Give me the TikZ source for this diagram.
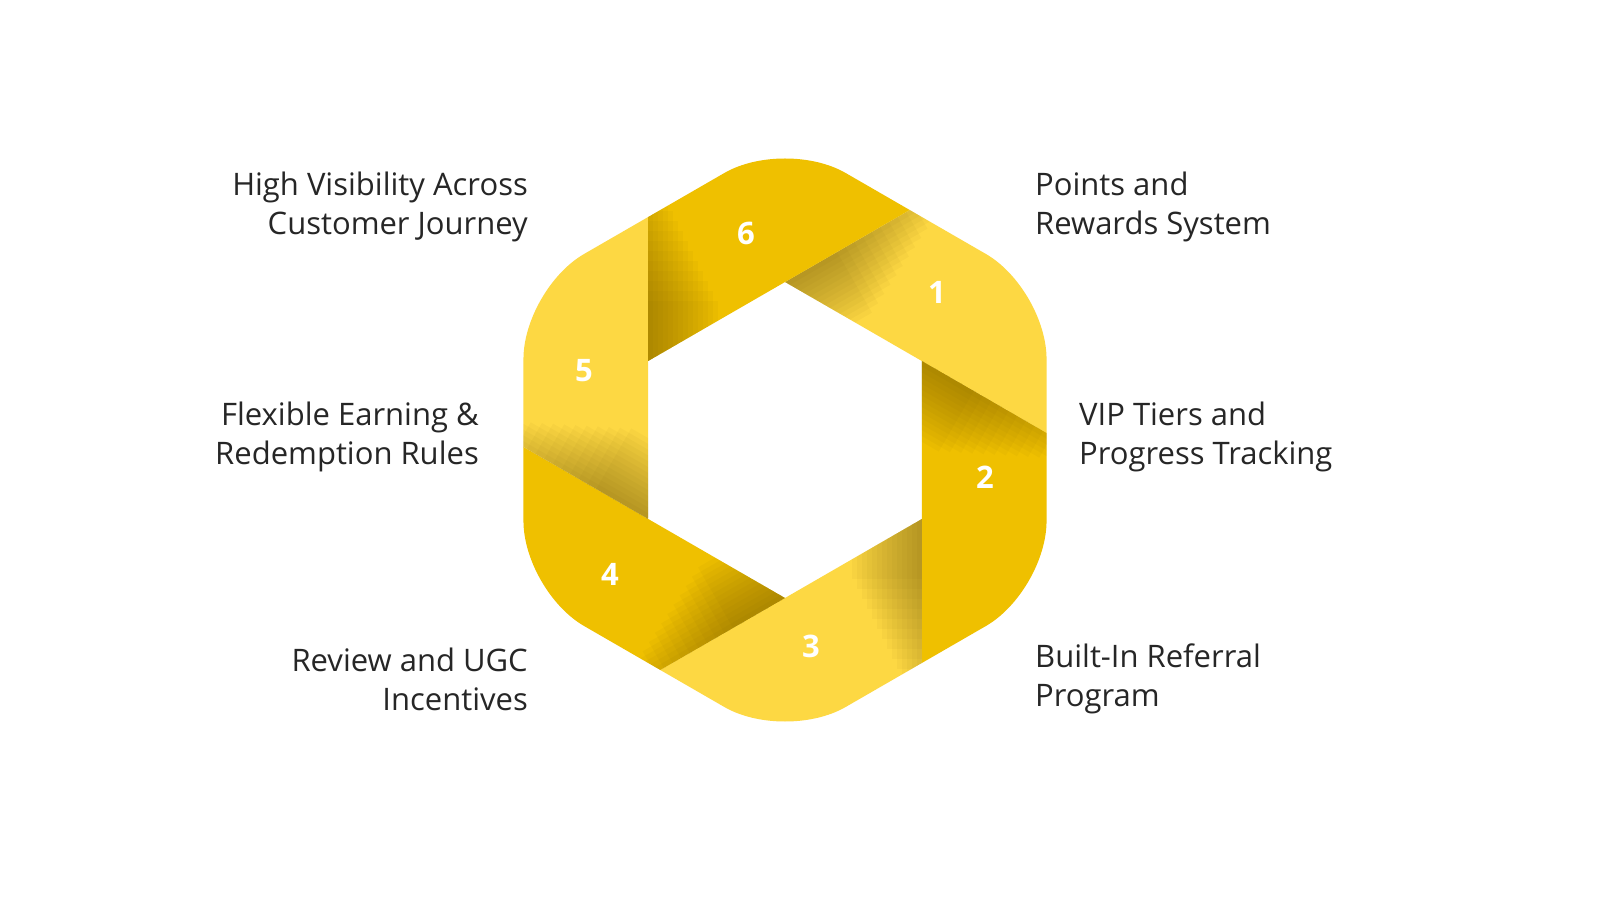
\documentclass[tikz,border=0pt]{standalone}
\usepackage{fontspec}
\setmainfont{Open Sans}
\definecolor{lightc}{HTML}{FDD843}
\definecolor{darkc}{HTML}{EFC000}
\definecolor{shadowc}{HTML}{5A4300}
\tikzset{lbl/.style={font=\fontsize{31}{39}\selectfont, text=black!85, inner sep=0pt},
num/.style={font=\fontsize{31}{31}\selectfont\bfseries, text=white, inner sep=0pt}}
\begin{document}
\begin{tikzpicture}[x=1pt,y=1pt]
\fill[white] (0,0) rectangle (1600,900);
\useasboundingbox (0,0) rectangle (1600,900);
\begin{scope}[shift={(785,460)}]
\foreach \k/\col in {0/lightc,1/darkc,2/lightc,3/darkc,4/lightc,5/darkc} {
 \begin{scope}[rotate=-60*\k]
  \clip[rounded corners=70] (90:302) -- (30:302) -- (-30:302) -- (-90:302) -- (-150:302) -- (150:302) -- cycle;
  \clip (0,158) -- (136.8,79) -- (526.5,-146) -- (389.7,383) -- cycle;
  \fill[\col] (-400,-400) rectangle (400,400);
  \foreach \i in {1,...,14} {
   \fill[shadowc, opacity=0.035] (0,158) -- ++(30:{200-10*\i}) -- ++(-60:{5*\i}) -- ++(210:{200-10*\i}) -- cycle;
  }
 \end{scope}
}
\end{scope}
\node[num] (n1) at (937,608) {1};
\node[num] (n2) at (985,423) {2};
\node[num] (n3) at (811,254) {3};
\node[num] (n4) at (610,326) {4};
\node[num] (n5) at (584,529) {5};
\node[num] (n6) at (746,667) {6};
\node[lbl, anchor=west, align=left] (t1) at (1035,693) {Points and\\Rewards System};
\node[lbl, anchor=west, align=left] (t2) at (1079,463) {VIP Tiers and\\Progress Tracking};
\node[lbl, anchor=west, align=left] (t3) at (1035,221) {Built-In Referral\\Program};
\node[lbl, anchor=east, align=right] (t4) at (528,221) {Review and UGC\\Incentives};
\node[lbl, anchor=east, align=right] (t5) at (479,463) {Flexible Earning \&\\Redemption Rules};
\node[lbl, anchor=east, align=right] (t6) at (528,693) {High Visibility Across\\Customer Journey};
\end{tikzpicture}
\end{document}
